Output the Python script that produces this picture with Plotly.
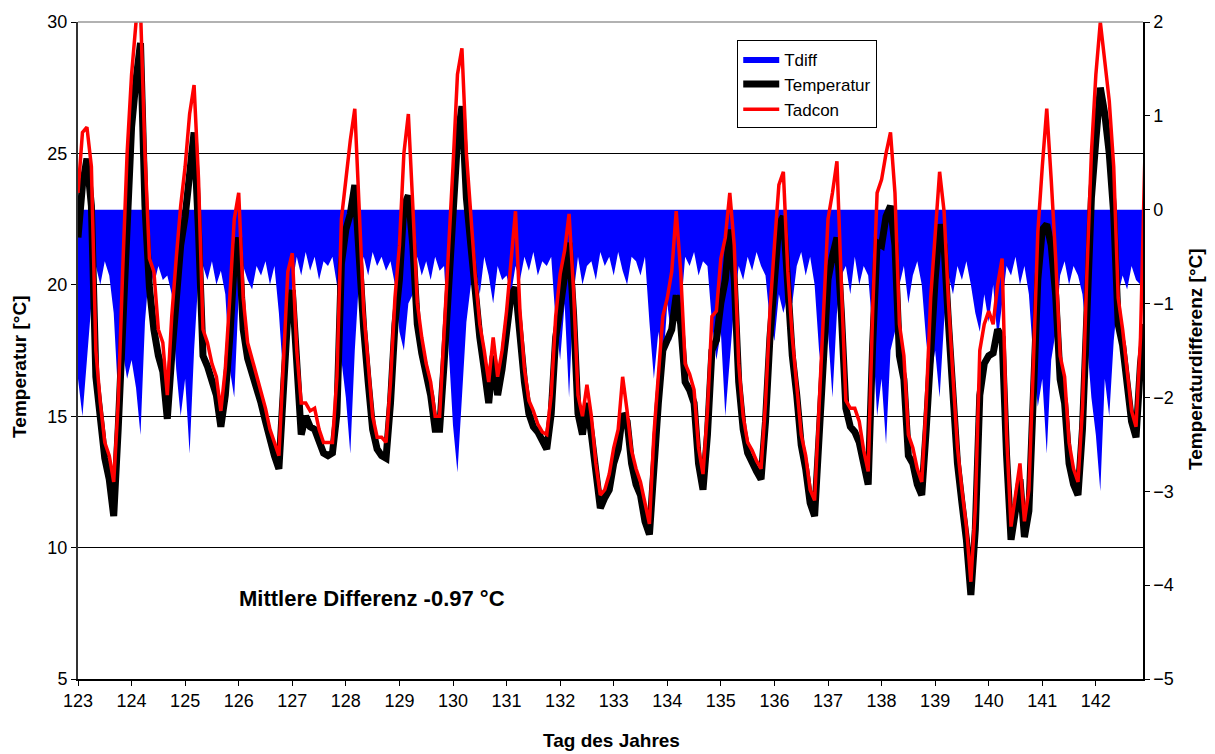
import plotly.graph_objects as go

# ---- data: 2-hourly readings, day 123.0 ... 142.917 (12 values per day) ----
start_day = 123
steps_per_day = 12

temp_123 = [21.8, 23.8, 24.8, 23.0, 16.5, 14.8, 13.4, 12.6, 11.2, 14.5, 18.9, 23.0]
temp_124 = [26.0, 27.8, 29.2, 23.0, 19.9, 18.3, 17.3, 16.7, 14.9, 17.3, 19.8, 21.5]
temp_125 = [22.6, 24.5, 25.8, 22.0, 17.3, 16.9, 16.4, 15.8, 14.6, 15.8, 18.0, 20.8]
temp_126 = [21.8, 18.3, 17.2, 16.7, 16.0, 15.5, 14.8, 14.0, 13.5, 13.0, 15.8, 18.9]
temp_127 = [19.8, 17.0, 14.3, 15.0, 14.6, 14.5, 14.0, 13.6, 13.5, 13.6, 15.1, 20.8]
temp_128 = [22.1, 22.7, 23.8, 20.8, 18.3, 16.3, 14.5, 13.75, 13.5, 13.4, 15.5, 18.5]
temp_129 = [20.2, 23.0, 23.4, 21.5, 18.5, 17.4, 16.5, 15.8, 14.5, 14.5, 17.0, 20.2]
temp_130 = [23.0, 25.5, 26.8, 23.3, 21.5, 19.6, 18.0, 16.8, 15.5, 17.3, 15.8, 16.8]
temp_131 = [18.0, 19.6, 19.9, 17.7, 16.3, 15.1, 14.6, 14.4, 14.0, 13.75, 15.1, 18.0]
temp_132 = [19.1, 20.2, 21.6, 18.9, 15.1, 14.3, 15.5, 14.3, 12.6, 11.5, 11.9, 12.2]
temp_133 = [13.2, 13.75, 15.1, 14.8, 13.2, 12.4, 12.0, 11.0, 10.5, 13.2, 15.5, 17.5]
temp_134 = [17.9, 18.3, 19.6, 18.5, 16.3, 16.0, 15.5, 13.2, 12.2, 14.3, 17.5, 17.9]
temp_135 = [19.3, 20.2, 22.1, 20.2, 16.3, 14.5, 13.6, 13.2, 12.9, 12.6, 14.8, 18.0]
temp_136 = [20.2, 22.3, 22.6, 19.5, 17.3, 15.8, 13.9, 13.0, 11.7, 11.2, 14.5, 18.0]
temp_137 = [20.2, 21.1, 21.8, 18.9, 15.3, 14.6, 14.4, 14.0, 13.2, 12.4, 17.7, 21.6]
temp_138 = [21.5, 22.6, 23.0, 21.5, 17.3, 16.4, 13.5, 13.2, 12.4, 12.0, 14.5, 18.0]
temp_139 = [20.2, 22.3, 21.5, 18.5, 15.8, 13.2, 11.7, 10.3, 8.2, 10.7, 15.8, 17.0]
temp_140 = [17.3, 17.4, 18.3, 18.0, 13.5, 10.3, 11.4, 12.6, 10.4, 11.4, 15.8, 20.2]
temp_141 = [22.1, 22.3, 21.5, 19.6, 16.4, 15.5, 13.2, 12.4, 12.0, 14.5, 18.9, 23.3]
temp_142 = [25.5, 27.5, 26.5, 25.0, 22.7, 18.5, 17.7, 16.3, 14.8, 14.2, 17.0, 18.5]

tadcon_123 = [23.5, 25.8, 26.0, 24.5, 17.5, 15.5, 14.0, 13.5, 12.5, 15.5, 20.5, 25.0]
tadcon_124 = [28.0, 30.0, 30.5, 25.0, 21.0, 20.5, 18.3, 17.8, 15.8, 18.8, 21.0, 23.0]
tadcon_125 = [24.5, 26.5, 27.6, 24.0, 18.3, 17.8, 17.0, 16.5, 15.2, 16.8, 19.5, 22.5]
tadcon_126 = [23.5, 19.5, 17.8, 17.2, 16.5, 16.0, 15.3, 14.5, 14.0, 13.5, 17.0, 20.5]
tadcon_127 = [21.2, 17.5, 15.5, 15.5, 15.2, 15.3, 14.5, 14.0, 14.0, 14.0, 16.5, 22.5]
tadcon_128 = [24.0, 25.5, 26.7, 23.0, 19.0, 17.0, 15.0, 14.2, 14.2, 14.0, 16.3, 19.5]
tadcon_129 = [21.5, 25.0, 26.5, 23.0, 19.3, 18.0, 17.0, 16.3, 15.0, 15.0, 18.0, 21.5]
tadcon_130 = [24.5, 28.0, 29.0, 25.0, 22.5, 20.3, 18.5, 17.5, 16.3, 18.0, 16.5, 17.5]
tadcon_131 = [19.0, 21.0, 22.8, 19.0, 16.8, 15.6, 15.2, 14.7, 14.4, 14.3, 15.8, 18.8]
tadcon_132 = [20.4, 21.3, 22.7, 19.8, 15.8, 15.0, 16.2, 15.0, 13.2, 12.0, 12.2, 12.8]
tadcon_133 = [13.8, 14.5, 16.5, 15.2, 13.7, 13.0, 12.5, 11.7, 10.9, 14.3, 16.5, 18.8]
tadcon_134 = [19.5, 20.5, 22.8, 20.5, 17.0, 16.6, 16.0, 13.8, 12.8, 15.2, 18.8, 19.0]
tadcon_135 = [21.0, 21.8, 23.5, 21.5, 17.0, 15.0, 14.0, 13.7, 13.3, 13.0, 15.5, 19.0]
tadcon_136 = [21.5, 23.8, 24.3, 20.5, 18.0, 16.3, 14.3, 13.5, 12.2, 11.8, 15.5, 19.5]
tadcon_137 = [22.5, 23.5, 24.7, 20.0, 15.6, 15.3, 15.3, 14.8, 13.7, 12.9, 19.0, 23.5]
tadcon_138 = [24.0, 25.0, 25.8, 23.5, 18.5, 17.3, 14.3, 13.8, 13.0, 12.5, 15.5, 19.5]
tadcon_139 = [21.8, 24.3, 22.8, 19.3, 16.5, 13.8, 12.2, 10.8, 8.7, 11.5, 17.5, 18.5]
tadcon_140 = [19.0, 18.5, 20.0, 21.0, 14.3, 10.8, 12.0, 13.2, 11.0, 12.2, 17.0, 22.0]
tadcon_141 = [24.5, 26.7, 24.0, 21.0, 17.3, 16.5, 14.0, 13.0, 12.5, 15.3, 20.5, 25.0]
tadcon_142 = [28.0, 30.0, 28.5, 27.0, 24.5, 19.5, 18.3, 16.8, 15.2, 14.6, 18.0, 25.0]

tdiff_123 = [-1.8, -2.2, -1.6, -1.0, -0.6, -0.8, -0.55, -0.7, -1.1, -2.0, -1.5, -1.8]
tdiff_124 = [-1.6, -1.9, -2.4, -1.2, -0.6, -0.8, -0.6, -0.75, -0.7, -0.9, -1.7, -2.2]
tdiff_125 = [-1.8, -2.6, -1.5, -0.7, -0.6, -0.75, -0.55, -0.8, -0.65, -0.9, -1.7, -2.0]
tdiff_126 = [-0.9, -0.6, -0.75, -0.85, -0.6, -0.7, -0.55, -0.8, -0.6, -1.1, -1.8, -1.4]
tdiff_127 = [-0.8, -0.5, -0.7, -0.45, -0.65, -0.5, -0.75, -0.55, -0.6, -0.5, -0.8, -1.6]
tdiff_128 = [-2.0, -2.6, -1.5, -0.7, -0.5, -0.7, -0.45, -0.6, -0.5, -0.65, -0.55, -0.8]
tdiff_129 = [-1.3, -1.5, -1.0, -0.9, -0.5, -0.7, -0.55, -0.75, -0.5, -0.65, -0.6, -1.5]
tdiff_130 = [-2.3, -2.8, -2.0, -1.2, -0.8, -0.6, -0.9, -0.5, -0.7, -1.0, -0.6, -0.75]
tdiff_131 = [-0.7, -0.9, -0.6, -0.75, -0.5, -0.65, -0.45, -0.7, -0.55, -0.6, -0.5, -1.2]
tdiff_132 = [-1.6, -1.0, -2.0, -0.9, -0.5, -0.8, -0.6, -0.55, -0.75, -0.45, -0.6, -0.5]
tdiff_133 = [-0.7, -0.45, -0.65, -0.8, -0.5, -0.55, -0.7, -0.5, -1.2, -1.8, -1.3, -1.7]
tdiff_134 = [-1.0, -1.4, -0.9, -1.1, -0.5, -0.6, -0.45, -0.7, -0.55, -0.6, -1.2, -1.6]
tdiff_135 = [-1.3, -2.2, -1.6, -1.0, -0.6, -0.75, -0.5, -0.65, -0.45, -0.6, -0.7, -1.2]
tdiff_136 = [-1.4, -0.9, -1.1, -0.9, -1.0, -0.6, -0.45, -0.7, -0.5, -0.8, -1.5, -1.9]
tdiff_137 = [-1.3, -2.0, -1.1, -0.7, -0.6, -0.9, -0.5, -0.8, -0.6, -0.7, -1.3, -2.2]
tdiff_138 = [-1.8, -2.5, -1.5, -1.3, -0.8, -0.6, -1.0, -0.7, -0.55, -0.8, -1.4, -1.8]
tdiff_139 = [-1.5, -2.0, -1.2, -0.7, -0.9, -0.6, -0.75, -0.55, -0.8, -1.1, -1.3, -0.9]
tdiff_140 = [-1.2, -0.8, -1.4, -1.0, -0.6, -0.7, -0.5, -0.8, -0.6, -0.9, -1.6, -2.1]
tdiff_141 = [-1.8, -2.6, -1.6, -1.3, -0.7, -0.55, -0.8, -0.6, -0.7, -0.9, -1.4, -2.0]
tdiff_142 = [-2.4, -3.0, -1.8, -2.2, -1.4, -0.9, -0.7, -0.85, -0.6, -0.75, -0.8, -0.9]

x_ticks = list(range(123, 143))
y_left_ticks = [5, 10, 15, 20, 25, 30]
y_right_ticks = [-5, -4, -3, -2, -1, 0, 1, 2]

temperatur = (temp_123 + temp_124 + temp_125 + temp_126 + temp_127 + temp_128 + temp_129
              + temp_130 + temp_131 + temp_132 + temp_133 + temp_134 + temp_135 + temp_136
              + temp_137 + temp_138 + temp_139 + temp_140 + temp_141 + temp_142)
tadcon = (tadcon_123 + tadcon_124 + tadcon_125 + tadcon_126 + tadcon_127 + tadcon_128
          + tadcon_129 + tadcon_130 + tadcon_131 + tadcon_132 + tadcon_133 + tadcon_134
          + tadcon_135 + tadcon_136 + tadcon_137 + tadcon_138 + tadcon_139 + tadcon_140
          + tadcon_141 + tadcon_142)
tdiff = (tdiff_123 + tdiff_124 + tdiff_125 + tdiff_126 + tdiff_127 + tdiff_128 + tdiff_129
         + tdiff_130 + tdiff_131 + tdiff_132 + tdiff_133 + tdiff_134 + tdiff_135 + tdiff_136
         + tdiff_137 + tdiff_138 + tdiff_139 + tdiff_140 + tdiff_141 + tdiff_142)

days = [start_day + k / steps_per_day for k in range(len(temperatur))]

FONT = "Liberation Sans, Arial, sans-serif"

fig = go.Figure()
fig.add_trace(go.Scatter(x=days, y=tdiff, name="Tdiff", mode="lines",
                         line=dict(color="#0000FF", width=0), fill="tozeroy",
                         fillcolor="#0000FF", yaxis="y"))
fig.add_trace(go.Scatter(x=days, y=temperatur, name="Temperatur", mode="lines",
                         line=dict(color="black", width=7), yaxis="y2"))
fig.add_trace(go.Scatter(x=days, y=tadcon, name="Tadcon", mode="lines",
                         line=dict(color="#FF0000", width=3.5), yaxis="y2"))

fig.update_layout(
    width=1215, height=754,
    margin=dict(l=78, r=72, t=18, b=75),
    paper_bgcolor="white", plot_bgcolor="white",
    font=dict(family=FONT, size=17, color="black"),
    showlegend=True,
    legend=dict(x=0.619, y=0.972, xanchor="left", yanchor="top",
                bgcolor="white", bordercolor="black", borderwidth=1,
                font=dict(size=17, family=FONT), itemwidth=36,
                tracegroupgap=0),
    xaxis=dict(range=[123, 142.88], tickvals=x_ticks, ticks="outside", ticklen=5,
               tickcolor="black", showline=True, linecolor="black", linewidth=1.5,
               showgrid=False, zeroline=False, tickfont=dict(size=18)),
    yaxis=dict(range=[-5, 2], tickvals=y_right_ticks, side="right", ticks="outside",
               ticklen=5, tickcolor="black", showline=True, linecolor="black",
               linewidth=1.5, showgrid=False, zeroline=False, tickfont=dict(size=18)),
    yaxis2=dict(range=[5, 30], tickvals=y_left_ticks, side="left", overlaying="y",
                ticks="outside", ticklen=5, tickcolor="black", showline=True,
                linecolor="#333333", linewidth=2, showgrid=True, gridcolor="black",
                gridwidth=1, zeroline=False, tickfont=dict(size=18)),
    shapes=[dict(type="line", xref="paper", yref="paper", x0=0, x1=1, y0=1, y1=1,
                 line=dict(color="#999999", width=1.5))],
    annotations=[
        dict(text="<b>Temperatur [°C]</b>", xref="paper", yref="paper",
             x=-0.0545, y=0.475, textangle=-90, showarrow=False,
             xanchor="center", yanchor="middle", font=dict(size=19)),
        dict(text="<b>Temperaturdifferenz [°C]</b>", xref="paper", yref="paper",
             x=1.0488, y=0.487, textangle=-90, showarrow=False,
             xanchor="center", yanchor="middle", font=dict(size=19)),
        dict(text="<b>Tag des Jahres</b>", xref="paper", yref="paper",
             x=0.5005, y=-0.0938, showarrow=False,
             xanchor="center", yanchor="middle", font=dict(size=19)),
        dict(text="<b>Mittlere Differenz -0.97 °C</b>", xref="paper", yref="paper",
             x=0.1493, y=0.1225, showarrow=False,
             xanchor="left", yanchor="middle", font=dict(size=22)),
    ],
)

fig.write_html("out.html")
